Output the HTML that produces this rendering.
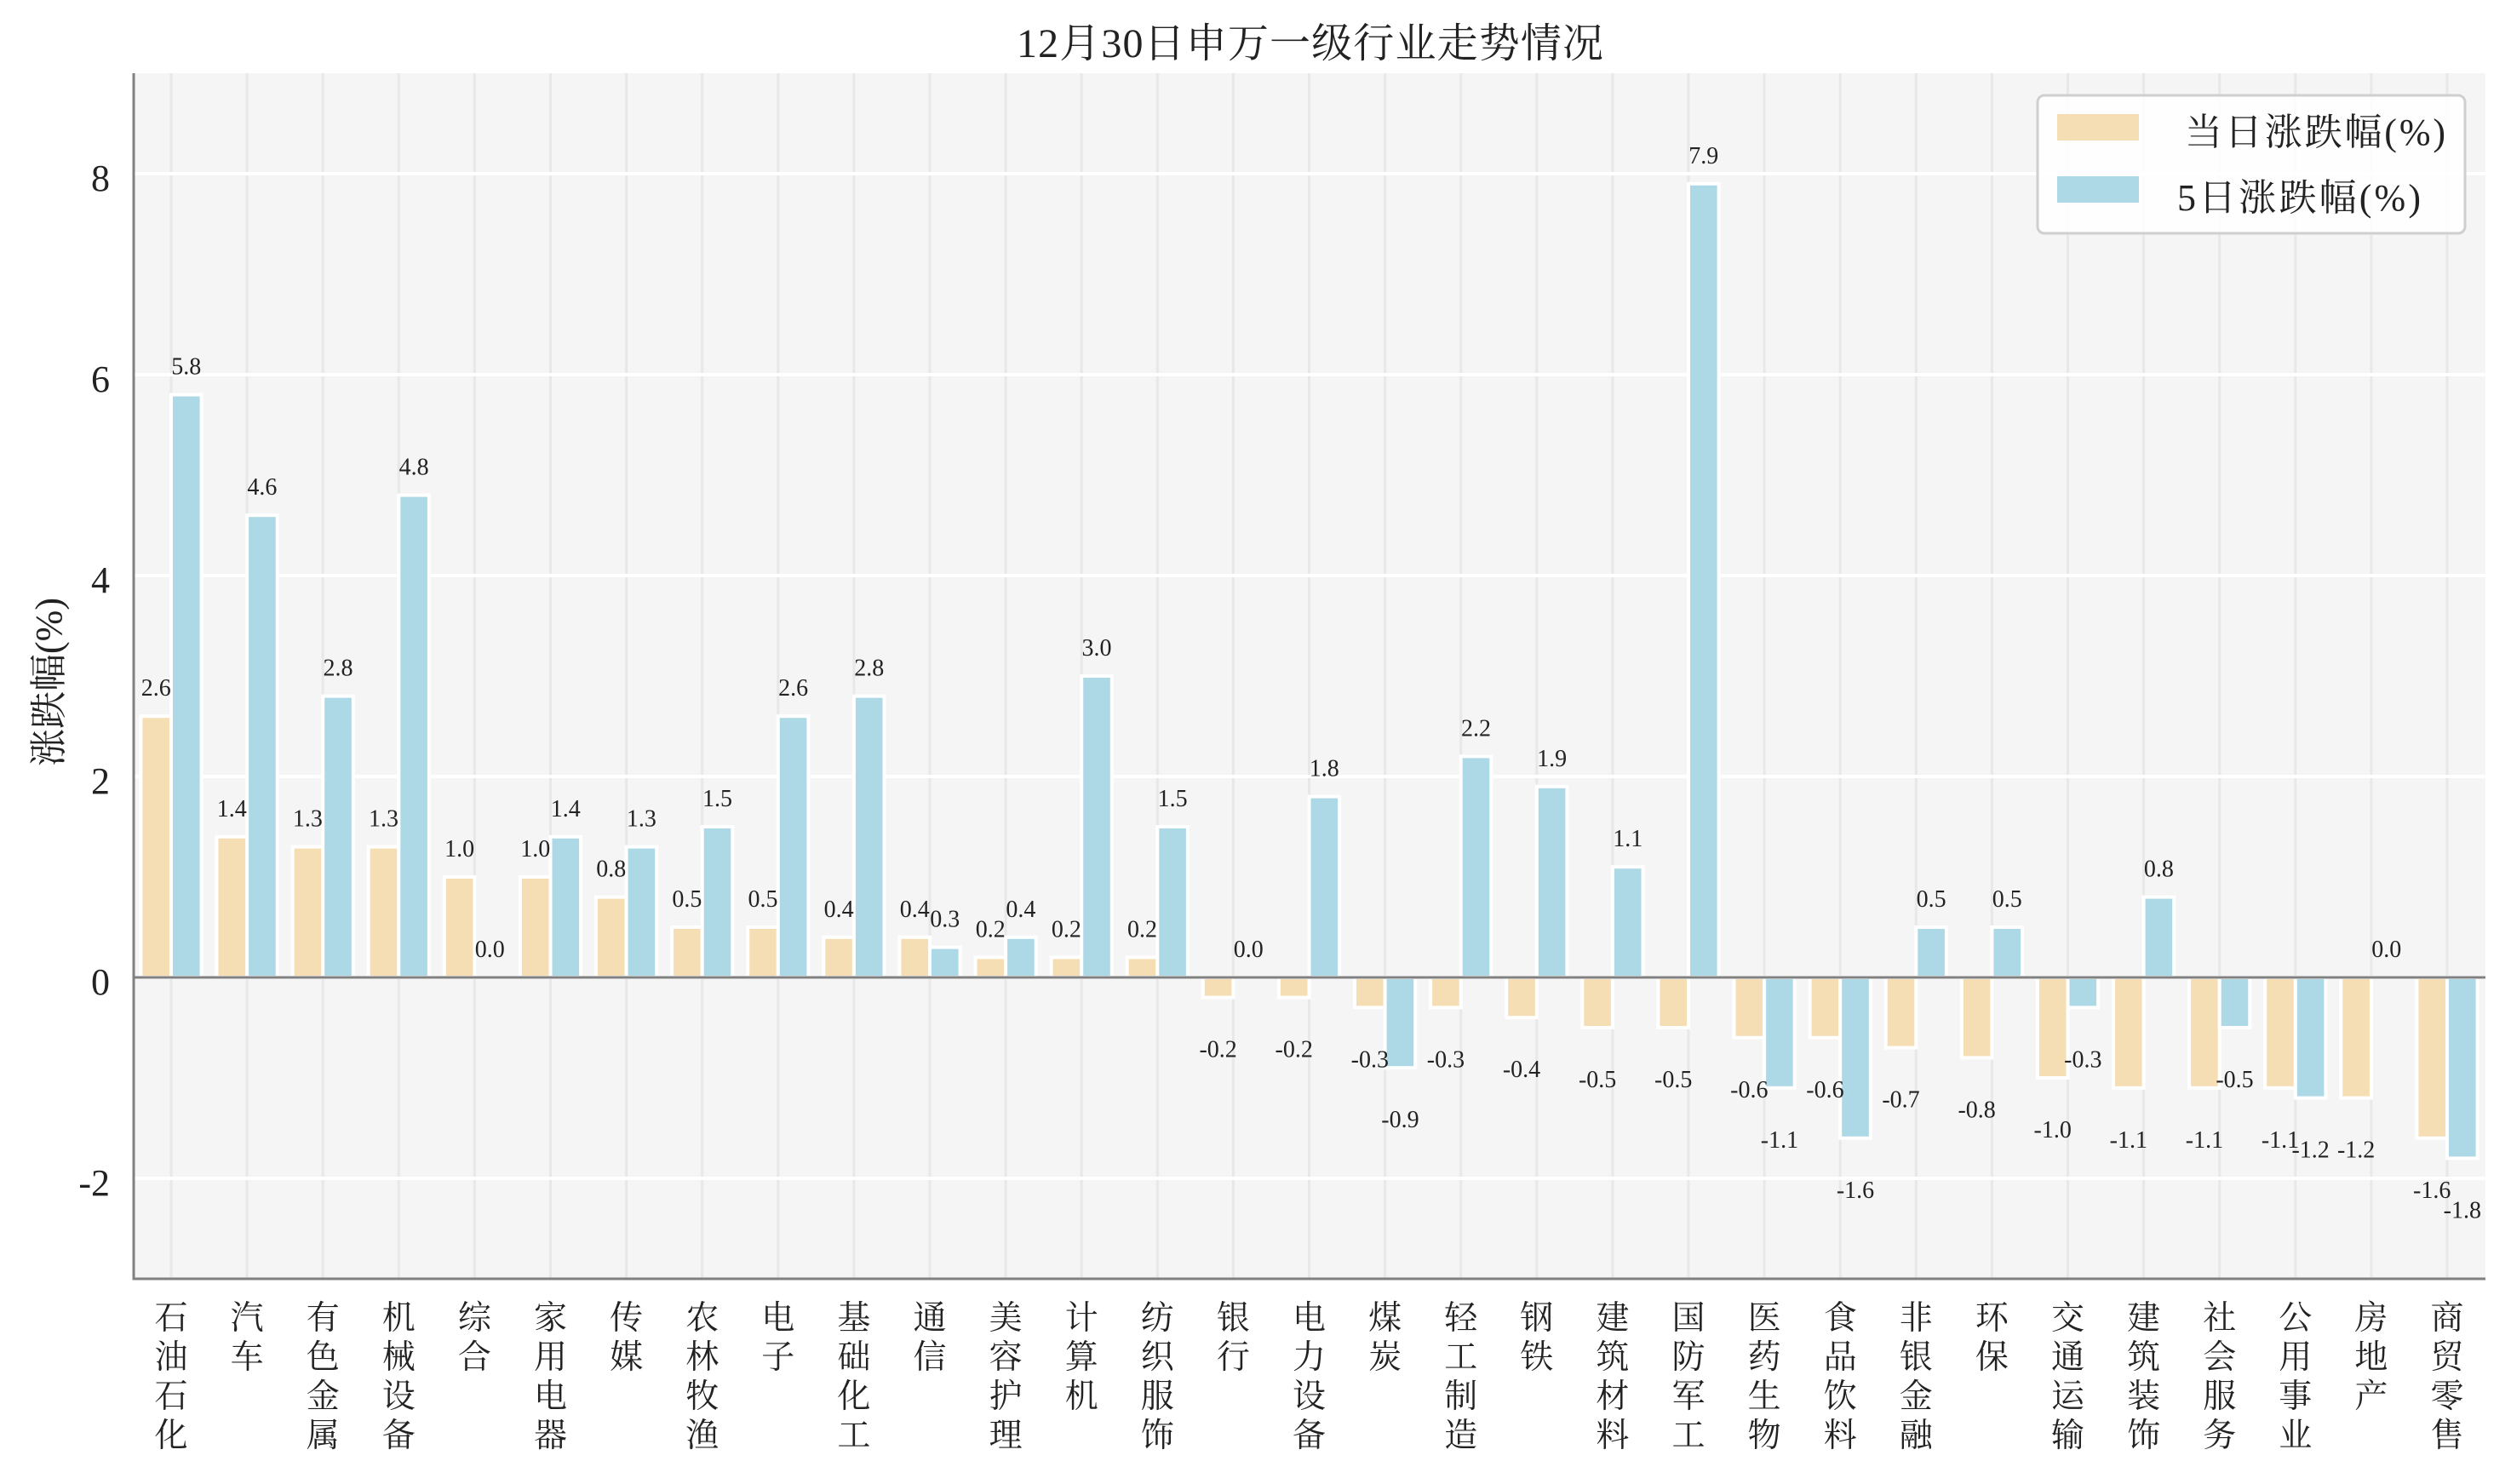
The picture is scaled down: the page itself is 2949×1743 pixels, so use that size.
<!DOCTYPE html>
<html><head><meta charset="utf-8"><style>
html,body{margin:0;padding:0;background:#fff;}
svg{display:block;}
.o{fill:#F5DEB3;stroke:#fff;stroke-width:4;}
.b{fill:#ADD8E6;stroke:#fff;stroke-width:4;}
.v{font-family:"Liberation Serif",serif;font-size:28px;text-anchor:middle;fill:#222;}
.x{font-family:"Liberation Serif","Noto Serif CJK SC",serif;font-size:39px;text-anchor:middle;fill:#222;}
.yt{font-family:"Liberation Serif",serif;font-size:44px;text-anchor:end;fill:#222;}
</style></head><body>
<svg width="2949" height="1743" viewBox="0 0 2949 1743" xmlns="http://www.w3.org/2000/svg">
<rect x="0" y="0" width="2949" height="1743" fill="#fff"/>
<rect x="157" y="86" width="2762" height="1416" fill="#f5f5f5"/>
<path d="M201 86V1502M290.1 86V1502M379.2 86V1502M468.3 86V1502M557.4 86V1502M646.5 86V1502M735.6 86V1502M824.7 86V1502M913.8 86V1502M1002.9 86V1502M1092 86V1502M1181.1 86V1502M1270.2 86V1502M1359.3 86V1502M1448.4 86V1502M1537.5 86V1502M1626.6 86V1502M1715.7 86V1502M1804.8 86V1502M1893.9 86V1502M1983 86V1502M2072.1 86V1502M2161.2 86V1502M2250.3 86V1502M2339.4 86V1502M2428.5 86V1502M2517.6 86V1502M2606.7 86V1502M2695.8 86V1502M2784.9 86V1502M2874 86V1502" stroke="#e8e8e8" stroke-width="3" fill="none"/>
<path d="M157 204H2919M157 440H2919M157 676H2919M157 912H2919M157 1148H2919M157 1384H2919" stroke="#fff" stroke-width="4" fill="none"/>

<g transform="translate(201,0)">
<rect class="o" x="-35.6" y="841.2" width="35.6" height="306.8"/>
<rect class="b" x="0" y="463.6" width="35.6" height="684.4"/>
<text class="v" x="-17.8" y="817.2">2.6</text><text class="v" x="17.8" y="439.6">5.8</text>
<text class="x" y="1561">石</text><text class="x" y="1607">油</text><text class="x" y="1653">石</text><text class="x" y="1699">化</text>
</g>
<g transform="translate(290.1,0)">
<rect class="o" x="-35.6" y="982.8" width="35.6" height="165.2"/>
<rect class="b" x="0" y="605.2" width="35.6" height="542.8"/>
<text class="v" x="-17.8" y="958.8">1.4</text><text class="v" x="17.8" y="581.2">4.6</text>
<text class="x" y="1561">汽</text><text class="x" y="1607">车</text>
</g>
<g transform="translate(379.2,0)">
<rect class="o" x="-35.6" y="994.6" width="35.6" height="153.4"/>
<rect class="b" x="0" y="817.6" width="35.6" height="330.4"/>
<text class="v" x="-17.8" y="970.6">1.3</text><text class="v" x="17.8" y="793.6">2.8</text>
<text class="x" y="1561">有</text><text class="x" y="1607">色</text><text class="x" y="1653">金</text><text class="x" y="1699">属</text>
</g>
<g transform="translate(468.3,0)">
<rect class="o" x="-35.6" y="994.6" width="35.6" height="153.4"/>
<rect class="b" x="0" y="581.6" width="35.6" height="566.4"/>
<text class="v" x="-17.8" y="970.6">1.3</text><text class="v" x="17.8" y="557.6">4.8</text>
<text class="x" y="1561">机</text><text class="x" y="1607">械</text><text class="x" y="1653">设</text><text class="x" y="1699">备</text>
</g>
<g transform="translate(557.4,0)">
<rect class="o" x="-35.6" y="1030" width="35.6" height="118"/>
<text class="v" x="-17.8" y="1006">1.0</text><text class="v" x="17.8" y="1124">0.0</text>
<text class="x" y="1561">综</text><text class="x" y="1607">合</text>
</g>
<g transform="translate(646.5,0)">
<rect class="o" x="-35.6" y="1030" width="35.6" height="118"/>
<rect class="b" x="0" y="982.8" width="35.6" height="165.2"/>
<text class="v" x="-17.8" y="1006">1.0</text><text class="v" x="17.8" y="958.8">1.4</text>
<text class="x" y="1561">家</text><text class="x" y="1607">用</text><text class="x" y="1653">电</text><text class="x" y="1699">器</text>
</g>
<g transform="translate(735.6,0)">
<rect class="o" x="-35.6" y="1053.6" width="35.6" height="94.4"/>
<rect class="b" x="0" y="994.6" width="35.6" height="153.4"/>
<text class="v" x="-17.8" y="1029.6">0.8</text><text class="v" x="17.8" y="970.6">1.3</text>
<text class="x" y="1561">传</text><text class="x" y="1607">媒</text>
</g>
<g transform="translate(824.7,0)">
<rect class="o" x="-35.6" y="1089" width="35.6" height="59"/>
<rect class="b" x="0" y="971" width="35.6" height="177"/>
<text class="v" x="-17.8" y="1065">0.5</text><text class="v" x="17.8" y="947">1.5</text>
<text class="x" y="1561">农</text><text class="x" y="1607">林</text><text class="x" y="1653">牧</text><text class="x" y="1699">渔</text>
</g>
<g transform="translate(913.8,0)">
<rect class="o" x="-35.6" y="1089" width="35.6" height="59"/>
<rect class="b" x="0" y="841.2" width="35.6" height="306.8"/>
<text class="v" x="-17.8" y="1065">0.5</text><text class="v" x="17.8" y="817.2">2.6</text>
<text class="x" y="1561">电</text><text class="x" y="1607">子</text>
</g>
<g transform="translate(1002.9,0)">
<rect class="o" x="-35.6" y="1100.8" width="35.6" height="47.2"/>
<rect class="b" x="0" y="817.6" width="35.6" height="330.4"/>
<text class="v" x="-17.8" y="1076.8">0.4</text><text class="v" x="17.8" y="793.6">2.8</text>
<text class="x" y="1561">基</text><text class="x" y="1607">础</text><text class="x" y="1653">化</text><text class="x" y="1699">工</text>
</g>
<g transform="translate(1092,0)">
<rect class="o" x="-35.6" y="1100.8" width="35.6" height="47.2"/>
<rect class="b" x="0" y="1112.6" width="35.6" height="35.4"/>
<text class="v" x="-17.8" y="1076.8">0.4</text><text class="v" x="17.8" y="1088.6">0.3</text>
<text class="x" y="1561">通</text><text class="x" y="1607">信</text>
</g>
<g transform="translate(1181.1,0)">
<rect class="o" x="-35.6" y="1124.4" width="35.6" height="23.6"/>
<rect class="b" x="0" y="1100.8" width="35.6" height="47.2"/>
<text class="v" x="-17.8" y="1100.4">0.2</text><text class="v" x="17.8" y="1076.8">0.4</text>
<text class="x" y="1561">美</text><text class="x" y="1607">容</text><text class="x" y="1653">护</text><text class="x" y="1699">理</text>
</g>
<g transform="translate(1270.2,0)">
<rect class="o" x="-35.6" y="1124.4" width="35.6" height="23.6"/>
<rect class="b" x="0" y="794" width="35.6" height="354"/>
<text class="v" x="-17.8" y="1100.4">0.2</text><text class="v" x="17.8" y="770">3.0</text>
<text class="x" y="1561">计</text><text class="x" y="1607">算</text><text class="x" y="1653">机</text>
</g>
<g transform="translate(1359.3,0)">
<rect class="o" x="-35.6" y="1124.4" width="35.6" height="23.6"/>
<rect class="b" x="0" y="971" width="35.6" height="177"/>
<text class="v" x="-17.8" y="1100.4">0.2</text><text class="v" x="17.8" y="947">1.5</text>
<text class="x" y="1561">纺</text><text class="x" y="1607">织</text><text class="x" y="1653">服</text><text class="x" y="1699">饰</text>
</g>
<g transform="translate(1448.4,0)">
<rect class="o" x="-35.6" y="1148" width="35.6" height="23.6"/>
<text class="v" x="-17.8" y="1241.6">-0.2</text><text class="v" x="17.8" y="1124">0.0</text>
<text class="x" y="1561">银</text><text class="x" y="1607">行</text>
</g>
<g transform="translate(1537.5,0)">
<rect class="o" x="-35.6" y="1148" width="35.6" height="23.6"/>
<rect class="b" x="0" y="935.6" width="35.6" height="212.4"/>
<text class="v" x="-17.8" y="1241.6">-0.2</text><text class="v" x="17.8" y="911.6">1.8</text>
<text class="x" y="1561">电</text><text class="x" y="1607">力</text><text class="x" y="1653">设</text><text class="x" y="1699">备</text>
</g>
<g transform="translate(1626.6,0)">
<rect class="o" x="-35.6" y="1148" width="35.6" height="35.4"/>
<rect class="b" x="0" y="1148" width="35.6" height="106.2"/>
<text class="v" x="-17.8" y="1253.4">-0.3</text><text class="v" x="17.8" y="1324.2">-0.9</text>
<text class="x" y="1561">煤</text><text class="x" y="1607">炭</text>
</g>
<g transform="translate(1715.7,0)">
<rect class="o" x="-35.6" y="1148" width="35.6" height="35.4"/>
<rect class="b" x="0" y="888.4" width="35.6" height="259.6"/>
<text class="v" x="-17.8" y="1253.4">-0.3</text><text class="v" x="17.8" y="864.4">2.2</text>
<text class="x" y="1561">轻</text><text class="x" y="1607">工</text><text class="x" y="1653">制</text><text class="x" y="1699">造</text>
</g>
<g transform="translate(1804.8,0)">
<rect class="o" x="-35.6" y="1148" width="35.6" height="47.2"/>
<rect class="b" x="0" y="923.8" width="35.6" height="224.2"/>
<text class="v" x="-17.8" y="1265.2">-0.4</text><text class="v" x="17.8" y="899.8">1.9</text>
<text class="x" y="1561">钢</text><text class="x" y="1607">铁</text>
</g>
<g transform="translate(1893.9,0)">
<rect class="o" x="-35.6" y="1148" width="35.6" height="59"/>
<rect class="b" x="0" y="1018.2" width="35.6" height="129.8"/>
<text class="v" x="-17.8" y="1277">-0.5</text><text class="v" x="17.8" y="994.2">1.1</text>
<text class="x" y="1561">建</text><text class="x" y="1607">筑</text><text class="x" y="1653">材</text><text class="x" y="1699">料</text>
</g>
<g transform="translate(1983,0)">
<rect class="o" x="-35.6" y="1148" width="35.6" height="59"/>
<rect class="b" x="0" y="215.8" width="35.6" height="932.2"/>
<text class="v" x="-17.8" y="1277">-0.5</text><text class="v" x="17.8" y="191.8">7.9</text>
<text class="x" y="1561">国</text><text class="x" y="1607">防</text><text class="x" y="1653">军</text><text class="x" y="1699">工</text>
</g>
<g transform="translate(2072.1,0)">
<rect class="o" x="-35.6" y="1148" width="35.6" height="70.8"/>
<rect class="b" x="0" y="1148" width="35.6" height="129.8"/>
<text class="v" x="-17.8" y="1288.8">-0.6</text><text class="v" x="17.8" y="1347.8">-1.1</text>
<text class="x" y="1561">医</text><text class="x" y="1607">药</text><text class="x" y="1653">生</text><text class="x" y="1699">物</text>
</g>
<g transform="translate(2161.2,0)">
<rect class="o" x="-35.6" y="1148" width="35.6" height="70.8"/>
<rect class="b" x="0" y="1148" width="35.6" height="188.8"/>
<text class="v" x="-17.8" y="1288.8">-0.6</text><text class="v" x="17.8" y="1406.8">-1.6</text>
<text class="x" y="1561">食</text><text class="x" y="1607">品</text><text class="x" y="1653">饮</text><text class="x" y="1699">料</text>
</g>
<g transform="translate(2250.3,0)">
<rect class="o" x="-35.6" y="1148" width="35.6" height="82.6"/>
<rect class="b" x="0" y="1089" width="35.6" height="59"/>
<text class="v" x="-17.8" y="1300.6">-0.7</text><text class="v" x="17.8" y="1065">0.5</text>
<text class="x" y="1561">非</text><text class="x" y="1607">银</text><text class="x" y="1653">金</text><text class="x" y="1699">融</text>
</g>
<g transform="translate(2339.4,0)">
<rect class="o" x="-35.6" y="1148" width="35.6" height="94.4"/>
<rect class="b" x="0" y="1089" width="35.6" height="59"/>
<text class="v" x="-17.8" y="1312.4">-0.8</text><text class="v" x="17.8" y="1065">0.5</text>
<text class="x" y="1561">环</text><text class="x" y="1607">保</text>
</g>
<g transform="translate(2428.5,0)">
<rect class="o" x="-35.6" y="1148" width="35.6" height="118"/>
<rect class="b" x="0" y="1148" width="35.6" height="35.4"/>
<text class="v" x="-17.8" y="1336">-1.0</text><text class="v" x="17.8" y="1253.4">-0.3</text>
<text class="x" y="1561">交</text><text class="x" y="1607">通</text><text class="x" y="1653">运</text><text class="x" y="1699">输</text>
</g>
<g transform="translate(2517.6,0)">
<rect class="o" x="-35.6" y="1148" width="35.6" height="129.8"/>
<rect class="b" x="0" y="1053.6" width="35.6" height="94.4"/>
<text class="v" x="-17.8" y="1347.8">-1.1</text><text class="v" x="17.8" y="1029.6">0.8</text>
<text class="x" y="1561">建</text><text class="x" y="1607">筑</text><text class="x" y="1653">装</text><text class="x" y="1699">饰</text>
</g>
<g transform="translate(2606.7,0)">
<rect class="o" x="-35.6" y="1148" width="35.6" height="129.8"/>
<rect class="b" x="0" y="1148" width="35.6" height="59"/>
<text class="v" x="-17.8" y="1347.8">-1.1</text><text class="v" x="17.8" y="1277">-0.5</text>
<text class="x" y="1561">社</text><text class="x" y="1607">会</text><text class="x" y="1653">服</text><text class="x" y="1699">务</text>
</g>
<g transform="translate(2695.8,0)">
<rect class="o" x="-35.6" y="1148" width="35.6" height="129.8"/>
<rect class="b" x="0" y="1148" width="35.6" height="141.6"/>
<text class="v" x="-17.8" y="1347.8">-1.1</text><text class="v" x="17.8" y="1359.6">-1.2</text>
<text class="x" y="1561">公</text><text class="x" y="1607">用</text><text class="x" y="1653">事</text><text class="x" y="1699">业</text>
</g>
<g transform="translate(2784.9,0)">
<rect class="o" x="-35.6" y="1148" width="35.6" height="141.6"/>
<text class="v" x="-17.8" y="1359.6">-1.2</text><text class="v" x="17.8" y="1124">0.0</text>
<text class="x" y="1561">房</text><text class="x" y="1607">地</text><text class="x" y="1653">产</text>
</g>
<g transform="translate(2874,0)">
<rect class="o" x="-35.6" y="1148" width="35.6" height="188.8"/>
<rect class="b" x="0" y="1148" width="35.6" height="212.4"/>
<text class="v" x="-17.8" y="1406.8">-1.6</text><text class="v" x="17.8" y="1430.4">-1.8</text>
<text class="x" y="1561">商</text><text class="x" y="1607">贸</text><text class="x" y="1653">零</text><text class="x" y="1699">售</text>
</g>

<line x1="157" y1="1148" x2="2919" y2="1148" stroke="#808080" stroke-width="3"/>
<line x1="157" y1="86" x2="157" y2="1503.5" stroke="#808080" stroke-width="3"/>
<line x1="155.5" y1="1502" x2="2919" y2="1502" stroke="#808080" stroke-width="3"/>

<text class="yt" x="129" y="224">8</text>
<text class="yt" x="129" y="460">6</text>
<text class="yt" x="129" y="696">4</text>
<text class="yt" x="129" y="932">2</text>
<text class="yt" x="129" y="1168">0</text>
<text class="yt" x="129" y="1404">-2</text>

<text transform="translate(72,801) rotate(-90)" x="0" y="0" text-anchor="middle" font-family="Liberation Serif, Noto Serif CJK SC, serif" font-size="44" fill="#222">涨跌幅(%)</text>

<text x="1194" y="67" textLength="689" lengthAdjust="spacing" font-family="Liberation Serif, Noto Serif CJK SC, serif" font-size="48" fill="#222">12月30日申万一级行业走势情况</text>

<rect x="2393" y="112" width="502" height="162" rx="8" ry="8" fill="#fff" fill-opacity="0.85" stroke="#cfcfcf" stroke-width="3"/>
<rect x="2416" y="134" width="96" height="31" fill="#F5DEB3"/>
<rect x="2416" y="207" width="96" height="31" fill="#ADD8E6"/>
<text x="2566" y="170" textLength="306" lengthAdjust="spacing" font-family="Liberation Serif, Noto Serif CJK SC, serif" font-size="44" fill="#222">当日涨跌幅(%)</text>
<text x="2557" y="247" textLength="286" lengthAdjust="spacing" font-family="Liberation Serif, Noto Serif CJK SC, serif" font-size="44" fill="#222">5日涨跌幅(%)</text>
</svg>
</body></html>
